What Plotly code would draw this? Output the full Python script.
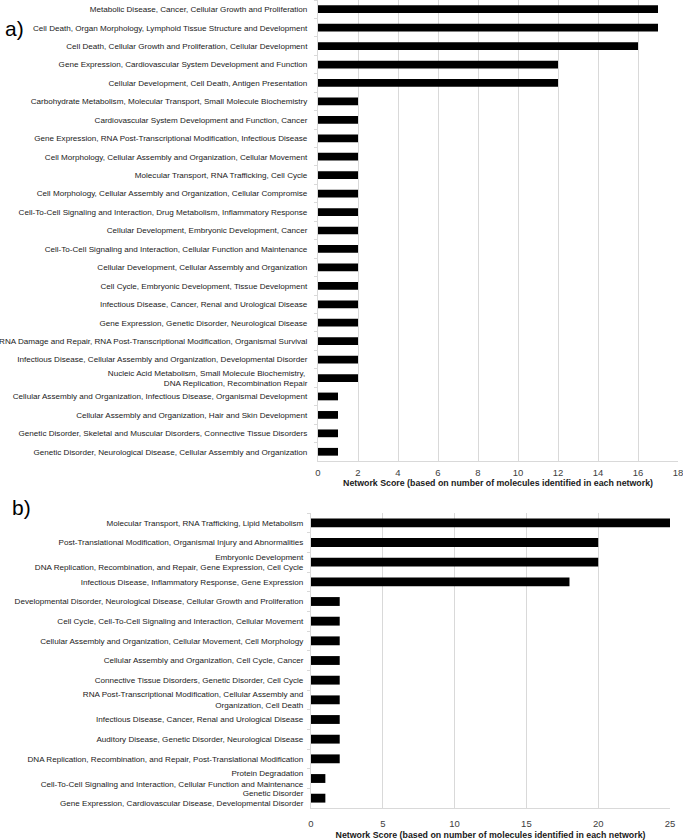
import plotly.graph_objects as go

# ---------------- data: panel a ----------------
cats_a = [
    "Metabolic Disease, Cancer, Cellular Growth and Proliferation",
    "Cell Death, Organ Morphology, Lymphoid Tissue Structure and Development",
    "Cell Death, Cellular Growth and Proliferation, Cellular Development",
    "Gene Expression, Cardiovascular System Development and Function",
    "Cellular Development, Cell Death, Antigen Presentation",
    "Carbohydrate Metabolism, Molecular Transport, Small Molecule Biochemistry",
    "Cardiovascular System Development and Function, Cancer",
    "Gene Expression, RNA Post-Transcriptional Modification, Infectious Disease",
    "Cell Morphology, Cellular Assembly and Organization, Cellular Movement",
    "Molecular Transport, RNA Trafficking, Cell Cycle",
    "Cell Morphology, Cellular Assembly and Organization, Cellular Compromise",
    "Cell-To-Cell Signaling and Interaction, Drug Metabolism, Inflammatory Response",
    "Cellular Development, Embryonic Development, Cancer",
    "Cell-To-Cell Signaling and Interaction, Cellular Function and Maintenance",
    "Cellular Development, Cellular Assembly and Organization",
    "Cell Cycle, Embryonic Development, Tissue Development",
    "Infectious Disease, Cancer, Renal and Urological Disease",
    "Gene Expression, Genetic Disorder, Neurological Disease",
    "RNA Damage and Repair, RNA Post-Transcriptional Modification, Organismal Survival",
    "Infectious Disease, Cellular Assembly and Organization, Developmental Disorder",
    "Nucleic Acid Metabolism, Small Molecule Biochemistry, <br>DNA Replication, Recombination Repair",
    "Cellular Assembly and Organization, Infectious Disease, Organismal Development",
    "Cellular Assembly and Organization, Hair and Skin Development",
    "Genetic Disorder, Skeletal and Muscular Disorders, Connective Tissue Disorders",
    "Genetic Disorder, Neurological Disease, Cellular Assembly and Organization",
]
vals_a = [17, 17, 16, 12, 12, 2, 2, 2, 2, 2, 2, 2, 2, 2, 2, 2, 2, 2, 2, 2, 2, 1, 1, 1, 1]
ticks_a = [0, 2, 4, 6, 8, 10, 12, 14, 16, 18]

# ---------------- data: panel b ----------------
cats_b = [
    "Molecular Transport, RNA Trafficking, Lipid Metabolism",
    "Post-Translational Modification, Organismal Injury and Abnormalities",
    "Embryonic Development<br>DNA Replication, Recombination, and Repair, Gene Expression, Cell Cycle",
    "Infectious Disease, Inflammatory Response, Gene Expression",
    "Developmental Disorder, Neurological Disease, Cellular Growth and Proliferation",
    "Cell Cycle, Cell-To-Cell Signaling and Interaction, Cellular Movement",
    "Cellular Assembly and Organization, Cellular Movement, Cell Morphology",
    "Cellular Assembly and Organization, Cell Cycle, Cancer",
    "Connective Tissue Disorders, Genetic Disorder, Cell Cycle",
    "RNA Post-Transcriptional Modification, Cellular Assembly and<br>Organization, Cell Death",
    "Infectious Disease, Cancer, Renal and Urological Disease",
    "Auditory Disease, Genetic Disorder, Neurological Disease",
    "DNA Replication, Recombination, and Repair, Post-Translational Modification",
    "Protein Degradation<br>Cell-To-Cell Signaling and Interaction, Cellular Function and Maintenance",
    "Genetic Disorder<br>Gene Expression, Cardiovascular Disease, Developmental Disorder",
]
vals_b = [25, 20, 20, 18, 2, 2, 2, 2, 2, 2, 2, 2, 2, 1, 1]
ticks_b = [0, 5, 10, 15, 20, 25]

x_title = "Network Score (based on number of molecules identified in each network)"

W, H = 683, 840
FONT = "Liberation Sans"
GRID = "#d9d9d9"
TXT = "#1a1a1a"

fig = go.Figure()
fig.add_trace(go.Bar(x=vals_a, y=cats_a, orientation="h", xaxis="x", yaxis="y",
                     marker=dict(color="black", line=dict(width=0)), width=0.42,
                     showlegend=False, hoverinfo="x+y"))
fig.add_trace(go.Bar(x=vals_b, y=cats_b, orientation="h", xaxis="x2", yaxis="y2",
                     marker=dict(color="black", line=dict(width=0)), width=0.45,
                     showlegend=False, hoverinfo="x+y"))

def px_x(p):
    return p / W

def px_y(p):
    return 1 - p / H

common_x = dict(showgrid=True, gridcolor=GRID, gridwidth=1, zeroline=False,
                showline=True, linecolor=GRID, linewidth=1, ticks="",
                ticklabeloverflow="allow",
                tickfont=dict(family=FONT, size=9.5, color="#404040"), automargin=False,
                fixedrange=True)
common_y = dict(type="category", autorange="reversed", showgrid=False, zeroline=False,
                showline=True, linecolor=GRID, linewidth=1, ticks="outside",
                ticklen=3, tickcolor=GRID, tickson="boundaries",
                tickfont=dict(family=FONT, size=8.1, color=TXT), automargin=False,
                fixedrange=True)

fig.update_layout(
    width=W, height=H,
    margin=dict(l=0, r=0, t=0, b=0),
    paper_bgcolor="white", plot_bgcolor="white",
    xaxis=dict(common_x, domain=[px_x(318), px_x(678)], anchor="y",
               range=[0, 18], tickvals=ticks_a, ticklabelstandoff=3,
               title=dict(text="<b>" + x_title + "</b>", standoff=1,
                          font=dict(family=FONT, size=8.8, color=TXT))),
    yaxis=dict(common_y, domain=[px_y(461), px_y(0)], anchor="x",
               ticklabelstandoff=8),
    xaxis2=dict(common_x, domain=[px_x(311), px_x(670)], anchor="y2",
                range=[0, 25], tickvals=ticks_b, ticklabelstandoff=7,
                title=dict(text="<b>" + x_title + "</b>", standoff=4,
                           font=dict(family=FONT, size=8.8, color=TXT))),
    yaxis2=dict(common_y, domain=[px_y(808), px_y(513)], anchor="x2",
                ticklabelstandoff=5),
    annotations=[
        dict(text="a)", x=px_x(3), y=px_y(29), xref="paper", yref="paper",
             xanchor="left", yanchor="middle", showarrow=False,
             font=dict(family=FONT, size=21, color="black")),
        dict(text="b)", x=px_x(10), y=px_y(508), xref="paper", yref="paper",
             xanchor="left", yanchor="middle", showarrow=False,
             font=dict(family=FONT, size=21, color="black")),
    ],
)

fig.write_html("out.html", config={"displayModeBar": False},
               post_script="document.body.style.margin='0';document.body.style.overflow='hidden';")
